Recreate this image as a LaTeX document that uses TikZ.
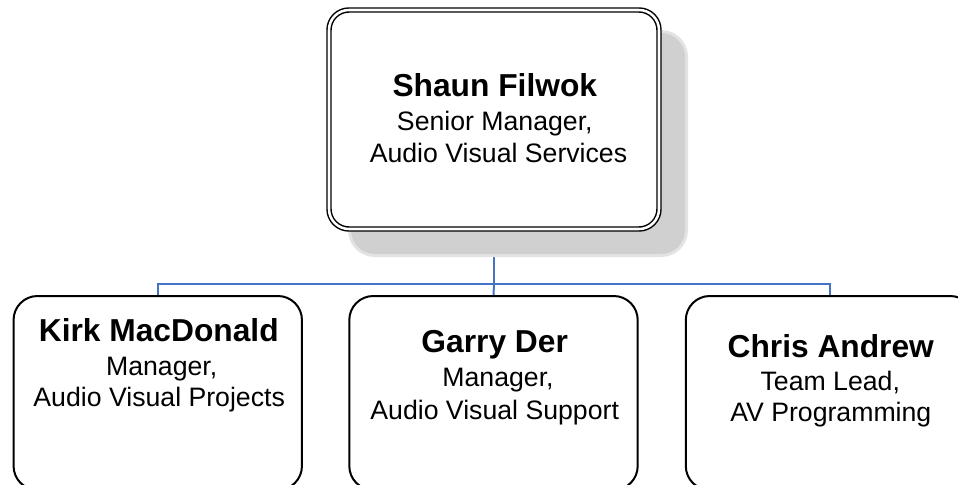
\documentclass[tikz,border=0pt]{standalone}
\usepackage{fontspec}
\setmainfont{Liberation Sans}
\definecolor{conn}{HTML}{4472C4}
\definecolor{shadowA}{HTML}{E3E3E3}
\definecolor{shadowB}{HTML}{D0D0D0}
\pgfdeclarelayer{background}
\pgfsetlayers{background,main}
\begin{document}
\begin{tikzpicture}[x=0.75pt,y=-0.75pt,
  namefont/.style={font=\fontsize{23.8pt}{28pt}\selectfont\bfseries, inner sep=0pt, anchor=base},
  rolefont/.style={font=\fontsize{20pt}{24pt}\selectfont, inner sep=0pt, anchor=base},
  person/.style={draw=black, line width=1.5pt, rounded corners=18pt, fill=white,
    minimum width=216.3pt, minimum height=145.5pt, inner sep=0pt},
  headbox/.style={draw=black, double=white, line width=1.1pt, double distance=1.9pt,
    rounded corners=15pt, fill=white, minimum width=247.5pt, minimum height=164.25pt, inner sep=0pt},
  connector/.style={draw=conn, line width=1.5pt}]
\useasboundingbox (0,0) rectangle (958,485);
% shadow of the head box
\fill[shadowA, rounded corners=20pt] (348,30) rectangle (688,257);
\fill[shadowB, rounded corners=18pt] (351,33) rectangle (685,254);
% boxes
\node[headbox] (head) at (494,119.5) {};
\node[person] (kirk) at (157.75,393) {};
\node[person] (garry) at (493.5,393) {};
\node[person] (chris) at (830,393) {};
% connectors
\coordinate (bus) at (494,284);
\begin{pgfonlayer}{background}
\draw[connector] (head.south) -- (bus);
\draw[connector] (bus) -| (kirk.north);
\draw[connector] (bus) -- (garry.north);
\draw[connector] (bus) -| (chris.north);
\end{pgfonlayer}
% texts
\node[namefont] (n1) at (494.8,96.7) {Shaun Filwok};
\node[rolefont] (r1a) at (494.8,130.7) {Senior Manager,};
\node[rolefont] (r1b) at (498.5,162.7) {Audio Visual Services};
\node[namefont] (n2) at (158.8,341.7) {Kirk MacDonald};
\node[rolefont] (r2a) at (161.7,375) {Manager,};
\node[rolefont] (r2b) at (159.2,406.7) {Audio Visual Projects};
\node[namefont] (n3) at (494.7,352.7) {Garry Der};
\node[rolefont] (r3a) at (498,386.7) {Manager,};
\node[rolefont] (r3b) at (494.7,419) {Audio Visual Support};
\node[namefont] (n4) at (830.8,357.3) {Chris Andrew};
\node[rolefont] (r4a) at (830.3,390) {Team Lead,};
\node[rolefont] (r4b) at (830.8,421.7) {AV Programming};
\end{tikzpicture}
\end{document}
